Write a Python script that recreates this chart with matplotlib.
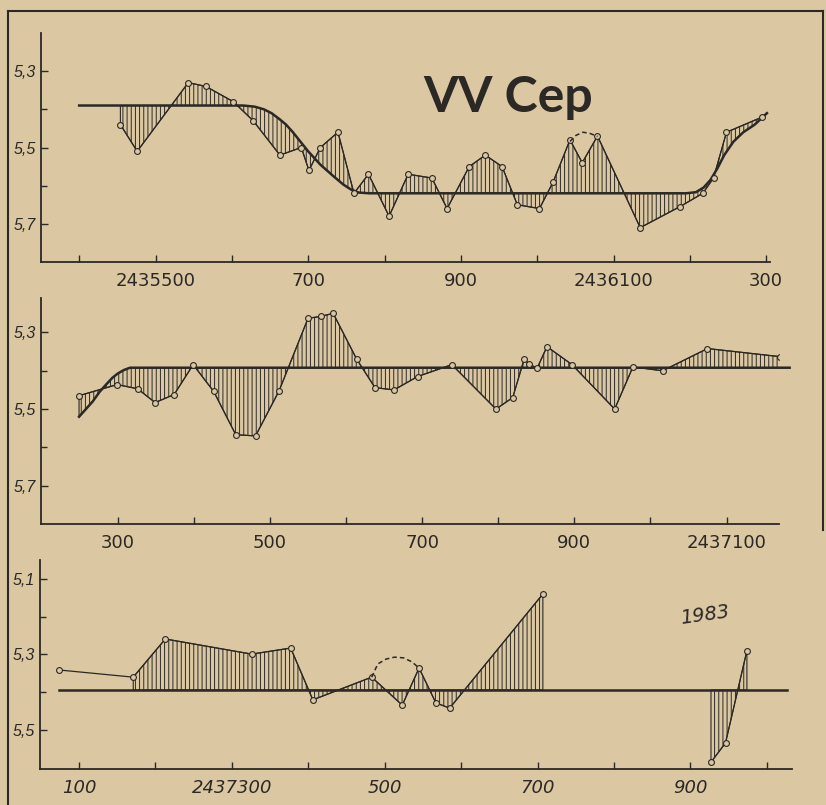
import numpy as np
import matplotlib
matplotlib.use("Agg")
import matplotlib.pyplot as plt
from matplotlib.lines import Line2D

paper = '#dbc8a3'
ink = '#2b2825'

# --- panel 1: JD 2435400 .. 2436300 ---
jd1 = [2435454, 2435476, 2435543, 2435566, 2435602, 2435628, 2435663, 2435691,
       2435701, 2435716, 2435739, 2435760, 2435779, 2435806, 2435831, 2435862,
       2435882, 2435911, 2435932, 2435954, 2435974, 2436003, 2436021, 2436043,
       2436059, 2436079, 2436135, 2436187, 2436217, 2436231, 2436248, 2436295]
mag1 = [5.44, 5.51, 5.33, 5.34, 5.38, 5.43, 5.52, 5.50,
        5.56, 5.50, 5.46, 5.62, 5.57, 5.68, 5.57, 5.58,
        5.66, 5.55, 5.52, 5.55, 5.65, 5.66, 5.59, 5.48,
        5.54, 5.47, 5.71, 5.655, 5.62, 5.58, 5.46, 5.42]
ref1_jd = [2435400, 2435615, 2435630, 2435642, 2435652, 2435662, 2435671, 2435680,
           2435690, 2435700, 2435716, 2435733, 2435746, 2435756, 2435766, 2435780,
           2436195, 2436208, 2436218, 2436227, 2436236, 2436245, 2436257, 2436270,
           2436285, 2436301]
ref1_mag = [5.39, 5.39, 5.393, 5.40, 5.41, 5.425, 5.44, 5.46,
            5.485, 5.51, 5.545, 5.575, 5.597, 5.61, 5.618, 5.62,
            5.62, 5.617, 5.605, 5.585, 5.555, 5.52, 5.485, 5.46,
            5.44, 5.41]
arc1_jd = [2436043, 2436051, 2436060, 2436069, 2436079]
arc1_mag = [5.484, 5.468, 5.46, 5.463, 5.471]

# --- panel 2: JD 2436300 .. 2437100 ---
jd2 = [2436249, 2436299, 2436326, 2436349, 2436374, 2436399, 2436426, 2436455,
       2436481, 2436512, 2436550, 2436567, 2436583, 2436614, 2436638, 2436663,
       2436694, 2436739, 2436797, 2436819, 2436834, 2436840, 2436851, 2436864,
       2436897, 2436953, 2436977, 2437016, 2437075, 2437170]
mag2 = [5.465, 5.436, 5.447, 5.483, 5.462, 5.384, 5.454, 5.567,
        5.57, 5.452, 5.263, 5.258, 5.25, 5.37, 5.444, 5.45,
        5.415, 5.384, 5.50, 5.47, 5.37, 5.381, 5.394, 5.337,
        5.384, 5.50, 5.39, 5.40, 5.342, 5.363]
ref2_jd = [2436249, 2436258, 2436267, 2436276, 2436285, 2436293, 2436300, 2436308,
           2436316, 2437183]
ref2_mag = [5.52, 5.50, 5.48, 5.455, 5.435, 5.418, 5.407, 5.398,
            5.392, 5.392]

# --- panel 3: JD 2437100 .. 2438000 ---
jd3 = [2437074, 2437171, 2437213, 2437326, 2437377, 2437406, 2437483, 2437523,
       2437545, 2437567, 2437585, 2437707]
mag3 = [5.341, 5.36, 5.259, 5.299, 5.283, 5.42, 5.36, 5.434,
        5.336, 5.428, 5.442, 5.14]
jd3b = [2437927, 2437946, 2437974]
mag3b = [5.585, 5.534, 5.29]
ref3_jd = [2437074, 2438026]
ref3_mag = [5.394, 5.394]
arc3_jd = [2437483, 2437491, 2437502, 2437513, 2437525, 2437536, 2437545]
arc3_mag = [5.36, 5.325, 5.312, 5.307, 5.309, 5.32, 5.336]

xt1 = np.arange(2435400, 2436301, 100)
xl1 = ['', '2435500', '', '700', '', '900', '', '2436100', '', '300']
xt2 = np.arange(2436300, 2437101, 100)
xl2 = ['300', '', '500', '', '700', '', '900', '', '2437100']
xt3 = np.arange(2437100, 2438001, 100)
xl3 = ['100', '', '2437300', '', '500', '', '700', '', '900', '']

plt.rcParams['hatch.linewidth'] = 0.7
plt.rcParams['font.family'] = 'DejaVu Sans'

W, H = 826, 805
fig = plt.figure(figsize=(W / 100, H / 100), dpi=100, facecolor=paper)


def make_ax(left, right, top, bottom):
    ax = fig.add_axes([left / W, 1 - bottom / H, (right - left) / W, (bottom - top) / H])
    ax.set_facecolor('none')
    for s in ['top', 'right']:
        ax.spines[s].set_visible(False)
    for s in ['left', 'bottom']:
        ax.spines[s].set_color(ink)
        ax.spines[s].set_linewidth(1.3)
    ax.tick_params(direction='in', length=5, width=1, colors=ink, labelsize=13, pad=7)
    ax.tick_params(which='minor', direction='in', length=4, width=1, colors=ink)
    return ax


def hatch_between(ax, x, y, rx, ry):
    x = np.asarray(x, float)
    grid = np.union1d(x, [v for v in rx if x[0] <= v <= x[-1]])
    y1 = np.interp(grid, x, y)
    y2 = np.interp(grid, rx, ry)
    ax.fill_between(grid, y1, y2, facecolor='none', edgecolor=ink,
                    hatch='||||', linewidth=0.8, interpolate=True)


def points(ax, x, y):
    ax.plot(x, y, color=ink, lw=0.9, marker='o', ms=4.2, mfc=paper, mec=ink, mew=0.8)


def yticks(ax, major, minor, labels):
    ax.set_yticks(major, labels, fontsize=11.5, fontstyle='italic',
                  family='Liberation Sans')
    ax.set_yticks(minor, minor=True)
    ax.tick_params(axis='y', pad=4)


# panel 1
ax1 = make_ax(41, 770, 33, 262)
ax1.set_xlim(2435350, 2436305)
ax1.set_ylim(5.8, 5.2)
hatch_between(ax1, jd1, mag1, ref1_jd, ref1_mag)
ax1.plot(ref1_jd, ref1_mag, color=ink, lw=1.8)
points(ax1, jd1, mag1)
ax1.plot(arc1_jd, arc1_mag, color=ink, lw=1.1, ls=(0, (3, 2)))
ax1.set_xticks(xt1, xl1)
yticks(ax1, [5.3, 5.5, 5.7], [5.4, 5.6], ['5,3', '5,5', '5,7'])

# panel 2
ax2 = make_ax(41, 779, 298, 524)
ax2.set_xlim(2436199, 2437169)
ax2.set_ylim(5.80, 5.21)
hatch_between(ax2, jd2, mag2, ref2_jd, ref2_mag)
ax2.plot(ref2_jd, ref2_mag, color=ink, lw=1.8, clip_on=False)
points(ax2, jd2, mag2)
ax2.set_xticks(xt2, xl2)
yticks(ax2, [5.3, 5.5, 5.7], [5.4, 5.6], ['5,3', '5,5', '5,7'])

# panel 3
ax3 = make_ax(40, 792, 560, 769)
ax3.set_xlim(2437049, 2438033)
ax3.set_ylim(5.603, 5.05)
hatch_between(ax3, jd3[1:], mag3[1:], ref3_jd, ref3_mag)
hatch_between(ax3, jd3b, mag3b, ref3_jd, ref3_mag)
ax3.plot(ref3_jd, ref3_mag, color=ink, lw=1.8)
points(ax3, jd3, mag3)
points(ax3, jd3b, mag3b)
ax3.plot(arc3_jd, arc3_mag, color=ink, lw=1.1, ls=(0, (3, 2)))
ax3.set_xticks(xt3, xl3)
for t in ax3.get_xticklabels():
    t.set_fontstyle('italic')
yticks(ax3, [5.1, 5.3, 5.5], [5.2, 5.4], ['5,1', '5,3', '5,5'])

# title and handwritten note
fig.text(423 / W, 1 - 112 / H, 'VV Cep', family='Lato', fontweight='bold',
         fontsize=36, color=ink, ha='left', va='baseline')
fig.text(705 / W, 1 - 615 / H, '1983', fontsize=14, fontstyle='italic',
         color=ink, ha='center', va='center', rotation=8)

# page frame
fig.add_artist(Line2D([8 / W, 8 / W], [0, 1 - 11 / H], color=ink, lw=1.5))
fig.add_artist(Line2D([8 / W, 823 / W], [1 - 11 / H, 1 - 11 / H], color=ink, lw=1.5))
fig.add_artist(Line2D([823 / W, 823 / W], [1 - 11 / H, 1 - 530 / H], color=ink, lw=1.5))

fig.savefig('out.png', dpi=100, facecolor=paper)
